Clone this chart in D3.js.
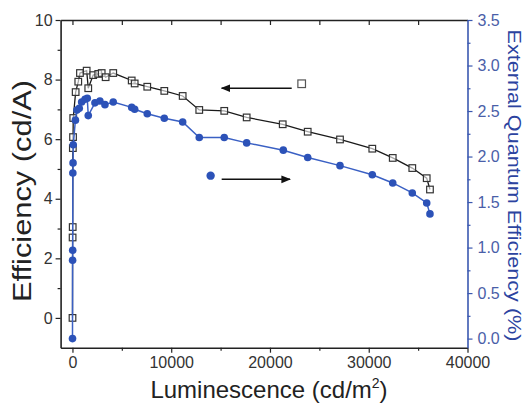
<!DOCTYPE html>
<html>
<head>
<meta charset="utf-8">
<script src="https://cdn.jsdelivr.net/npm/d3@7"></script>
<style>
  body { margin: 0; background: #fff; }
  svg { font-family: "Liberation Sans", Arial, sans-serif; }
</style>
</head>
<body>
<script>
// current efficiency (cd/A), black open squares, left axis
let effLum = [5, 15, 25, 40, 60, 80, 324, 590, 760, 1440, 1600, 2100, 2610, 2960, 3360, 4130,
  6000, 6300, 7575, 9300, 11160, 12840, 15370, 17640, 21290, 23820, 27090, 30360, 32430, 34410, 35870, 36200]
let effVal = [0.0, 2.70, 3.05, 5.70, 6.07, 6.71, 7.58, 7.93, 8.22, 8.30, 7.71, 8.15, 8.19, 8.22, 8.08, 8.22,
  7.97, 7.87, 7.76, 7.62, 7.45, 6.98, 6.95, 6.73, 6.50, 6.25, 5.99, 5.68, 5.37, 5.03, 4.69, 4.31]

// external quantum efficiency (%), blue filled circles, right axis
let eqeLum = [5, 15, 25, 40, 60, 80, 300, 455, 690, 930, 1270, 1500, 1600, 2280, 2780, 3290, 4130,
  6000, 6300, 7575, 9300, 11160, 12840, 15370, 17640, 21350, 23820, 27090, 30360, 32430, 34410, 35870, 36200]
let eqeVal = [0.0, 0.86, 0.97, 1.82, 1.93, 2.13, 2.40, 2.51, 2.53, 2.60, 2.63, 2.64, 2.45, 2.59, 2.61, 2.57, 2.60,
  2.54, 2.52, 2.47, 2.42, 2.38, 2.21, 2.21, 2.15, 2.07, 1.99, 1.90, 1.80, 1.71, 1.60, 1.49, 1.37]

// tick labels
let xTicks = [0, 10000, 20000, 30000, 40000]
let yLeftTicks = [0, 2, 4, 6, 8, 10]
let yRightTicks = [0, 0.5, 1, 1.5, 2, 2.5, 3, 3.5]

let width = 527, height = 404
let plotL = 60.6, plotR = 467.5, plotT = 20, plotB = 347.7
let blue = "#2c52b8"

let x = d3.scaleLinear().domain([-1200, 40000]).range([plotL, plotR])
let yL = d3.scaleLinear().domain([-1, 10]).range([plotB, plotT])
let yR = d3.scaleLinear().domain([-0.1, 3.5]).range([plotB, plotT])

let svg = d3.select("body").append("svg")
  .attr("width", width)
  .attr("height", height)

// arrow heads
let defs = svg.append("defs")
defs.append("marker")
  .attr("id", "head")
  .attr("viewBox", "0 0 10 10")
  .attr("refX", 9).attr("refY", 5)
  .attr("markerWidth", 6).attr("markerHeight", 6)
  .attr("markerUnits", "strokeWidth")
  .attr("orient", "auto")
  .append("path")
  .attr("d", "M0,1 L10,5 L0,9 Z")
  .attr("fill", "#111")

// axes
function styleAxis(g, col) {
  g.selectAll(".domain").attr("stroke", col).attr("stroke-width", 1.6)
  g.selectAll(".tick line").attr("stroke", col).attr("stroke-width", 1.2)
  g.selectAll("text").attr("font-size", 16).attr("font-family", null)
}

let minorX = d3.range(5000, 40000, 10000)

svg.append("g")
  .attr("transform", "translate(0," + plotB + ")")
  .call(d3.axisBottom(x).tickValues(xTicks).tickSize(5).tickSizeOuter(0).tickPadding(4).tickFormat(d3.format("d")))
  .call(g => styleAxis(g, "#222"))
  .call(g => g.selectAll("text").attr("fill", "#333"))
svg.append("g")
  .attr("transform", "translate(0," + plotB + ")")
  .call(d3.axisBottom(x).tickValues(minorX).tickSize(3).tickFormat(""))
  .call(g => g.select(".domain").remove())
  .call(g => g.selectAll(".tick line").attr("stroke", "#222").attr("stroke-width", 1.2))

// top frame with inward ticks
svg.append("g")
  .attr("transform", "translate(0," + plotT + ")")
  .call(d3.axisTop(x).tickValues(d3.range(0, 40000, 5000)).tickSize(-5).tickSizeOuter(0).tickFormat(""))
  .call(g => styleAxis(g, "#222"))

svg.append("g")
  .attr("transform", "translate(" + plotL + ",0)")
  .call(d3.axisLeft(yL).tickValues(yLeftTicks).tickSize(5).tickSizeOuter(0).tickPadding(3).tickFormat(d3.format("d")))
  .call(g => styleAxis(g, "#222"))
  .call(g => g.selectAll("text").attr("fill", "#333"))
svg.append("g")
  .attr("transform", "translate(" + plotL + ",0)")
  .call(d3.axisLeft(yL).tickValues([1, 3, 5, 7, 9]).tickSize(3).tickFormat(""))
  .call(g => g.select(".domain").remove())
  .call(g => g.selectAll(".tick line").attr("stroke", "#222").attr("stroke-width", 1.2))

svg.append("g")
  .attr("transform", "translate(" + plotR + ",0)")
  .call(d3.axisRight(yR).tickValues(yRightTicks).tickSize(5).tickSizeOuter(0).tickPadding(5).tickFormat(d3.format(".1f")))
  .call(g => styleAxis(g, "#3a58b0"))
  .call(g => g.selectAll("text").attr("fill", "#4a5ea8"))
svg.append("g")
  .attr("transform", "translate(" + plotR + ",0)")
  .call(d3.axisRight(yR).tickValues(d3.range(0.25, 3.5, 0.5)).tickSize(3).tickFormat(""))
  .call(g => g.select(".domain").remove())
  .call(g => g.selectAll(".tick line").attr("stroke", "#3a58b0").attr("stroke-width", 1.2))

// axis titles
let xTitle = svg.append("text")
  .attr("x", 269).attr("y", 398)
  .attr("text-anchor", "middle")
  .attr("font-size", 24)
  .attr("fill", "#222")
xTitle.append("tspan").text("Luminescence (cd/m")
xTitle.append("tspan").attr("font-size", 14).attr("dy", -10).text("2")
xTitle.append("tspan").attr("dy", 10).text(")")

svg.append("text")
  .attr("transform", "translate(31,191) rotate(-90)")
  .attr("text-anchor", "middle")
  .attr("font-size", 25)
  .attr("textLength", 222)
  .attr("lengthAdjust", "spacingAndGlyphs")
  .attr("fill", "#222")
  .text("Efficiency (cd/A)")

svg.append("text")
  .attr("transform", "translate(508,185.5) rotate(90)")
  .attr("text-anchor", "middle")
  .attr("font-size", 19)
  .attr("textLength", 312)
  .attr("lengthAdjust", "spacingAndGlyphs")
  .attr("fill", "#2c43a0")
  .text("External Quantum Efficiency (%)")

// series
let effData = effLum.map((d, i) => ({lum: d, v: effVal[i]}))
let eqeData = eqeLum.map((d, i) => ({lum: d, v: eqeVal[i]}))

svg.append("path")
  .datum(effData)
  .attr("fill", "none")
  .attr("stroke", "#1a1a1a")
  .attr("stroke-width", 1.3)
  .attr("d", d3.line().x(d => x(d.lum)).y(d => yL(d.v)))

svg.selectAll(".sq")
  .data(effData)
  .enter().append("rect")
  .attr("class", "sq")
  .attr("x", d => x(d.lum) - 3.3)
  .attr("y", d => yL(d.v) - 3.3)
  .attr("width", 6.6).attr("height", 6.6)
  .attr("fill", "#fff")
  .attr("fill-opacity", 0.6)
  .attr("stroke", "#333")
  .attr("stroke-width", 1.2)

svg.append("path")
  .datum(eqeData)
  .attr("fill", "none")
  .attr("stroke", "#3a60c4")
  .attr("stroke-width", 1.5)
  .attr("d", d3.line().x(d => x(d.lum)).y(d => yR(d.v)))

svg.selectAll(".dot")
  .data(eqeData)
  .enter().append("circle")
  .attr("class", "dot")
  .attr("cx", d => x(d.lum))
  .attr("cy", d => yR(d.v))
  .attr("r", 3.8)
  .attr("fill", blue)

// legend markers with arrows
svg.append("rect")
  .attr("x", x(23210) - 3.8).attr("y", yL(7.86) - 3.8)
  .attr("width", 7.6).attr("height", 7.6)
  .attr("fill", "#fff").attr("stroke", "#555").attr("stroke-width", 1.2)
svg.append("line")
  .attr("x1", x(22200)).attr("x2", x(15110))
  .attr("y1", yL(7.71)).attr("y2", yL(7.71))
  .attr("stroke", "#111").attr("stroke-width", 1.6)
  .attr("marker-end", "url(#head)")

svg.append("circle")
  .attr("cx", x(13990)).attr("cy", yR(1.79))
  .attr("r", 4.2).attr("fill", blue)
svg.append("line")
  .attr("x1", x(15110)).attr("x2", x(22030))
  .attr("y1", yR(1.75)).attr("y2", yR(1.75))
  .attr("stroke", "#111").attr("stroke-width", 1.6)
  .attr("marker-end", "url(#head)")
</script>
</body>
</html>
